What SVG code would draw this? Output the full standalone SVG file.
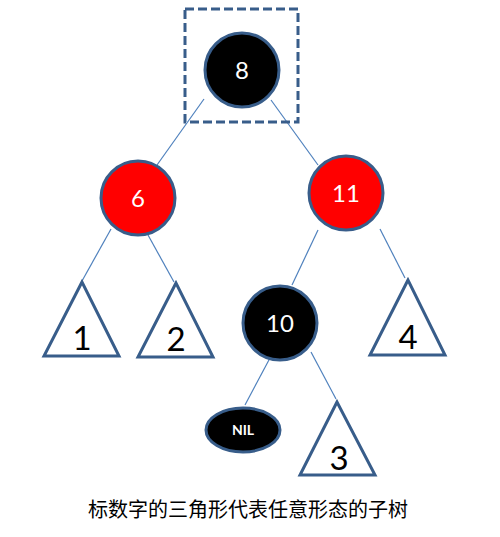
<svg xmlns="http://www.w3.org/2000/svg" width="500" height="537" viewBox="0 0 500 537">
<style>
.edge{stroke:#4F81BD;stroke-width:1.2;fill:none}
.node{stroke:#385D8A;stroke-width:3}
.blk{fill:#000}
.red{fill:#FF0000}
.nt{font-family:Lato,"Open Sans",sans-serif;font-size:24px;fill:#fff;text-anchor:middle}
.tri{fill:#fff;stroke:#385D8A;stroke-width:3;stroke-linejoin:miter}
.tt{font-family:Lato,"Open Sans",sans-serif;font-size:33px;fill:#000;text-anchor:middle}
</style>
<rect width="500" height="537" fill="#fff"/>
<g id="edges">
<line class="edge" x1="204" y1="99" x2="157" y2="165"/>
<line class="edge" x1="271" y1="100" x2="318" y2="165"/>
<line class="edge" x1="111" y1="229" x2="82" y2="281"/>
<line class="edge" x1="148" y1="235" x2="174" y2="282"/>
<line class="edge" x1="318" y1="230" x2="292" y2="285"/>
<line class="edge" x1="380" y1="229" x2="405" y2="278"/>
<line class="edge" x1="270" y1="358" x2="245" y2="405"/>
<line class="edge" x1="311" y1="352" x2="336" y2="399"/>
</g>
<g id="highlight">
<rect x="185" y="9" width="113" height="113" fill="none" stroke="#385D8A" stroke-width="3" stroke-dasharray="9,4"/>
</g>
<g id="n8">
<circle class="node blk" cx="242" cy="70" r="37"/>
<text class="nt" x="242" y="79">8</text>
</g>
<g id="n6">
<circle class="node red" cx="138" cy="198" r="37"/>
<text class="nt" x="138" y="207">6</text>
</g>
<g id="n11">
<circle class="node red" cx="346" cy="193" r="37"/>
<text class="nt" x="346" y="202">11</text>
</g>
<g id="n10">
<circle class="node blk" cx="280" cy="323" r="37"/>
<text class="nt" x="280" y="332">10</text>
</g>
<g id="nil">
<ellipse class="node blk" cx="243" cy="430" rx="37" ry="22"/>
<text x="243" y="435" font-family="Lato,'Open Sans',sans-serif" font-size="14" font-weight="bold" fill="#fff" text-anchor="middle">NIL</text>
</g>
<g id="t1">
<polygon class="tri" points="82,282 44,356 119,356"/>
<text class="tt" x="82" y="350">1</text>
</g>
<g id="t2">
<polygon class="tri" points="176,283 138,357 213,357"/>
<text class="tt" x="176" y="351">2</text>
</g>
<g id="t4">
<polygon class="tri" points="408,280 370,355 445,355"/>
<text class="tt" x="408" y="349">4</text>
</g>
<g id="t3">
<polygon class="tri" points="337,402 300,475 375,475"/>
<text class="tt" x="339" y="470">3</text>
</g>
<text x="248" y="517" font-family="'Noto Sans CJK SC',sans-serif" font-size="20" fill="#000" text-anchor="middle">标数字的三角形代表任意形态的子树</text>
</svg>
